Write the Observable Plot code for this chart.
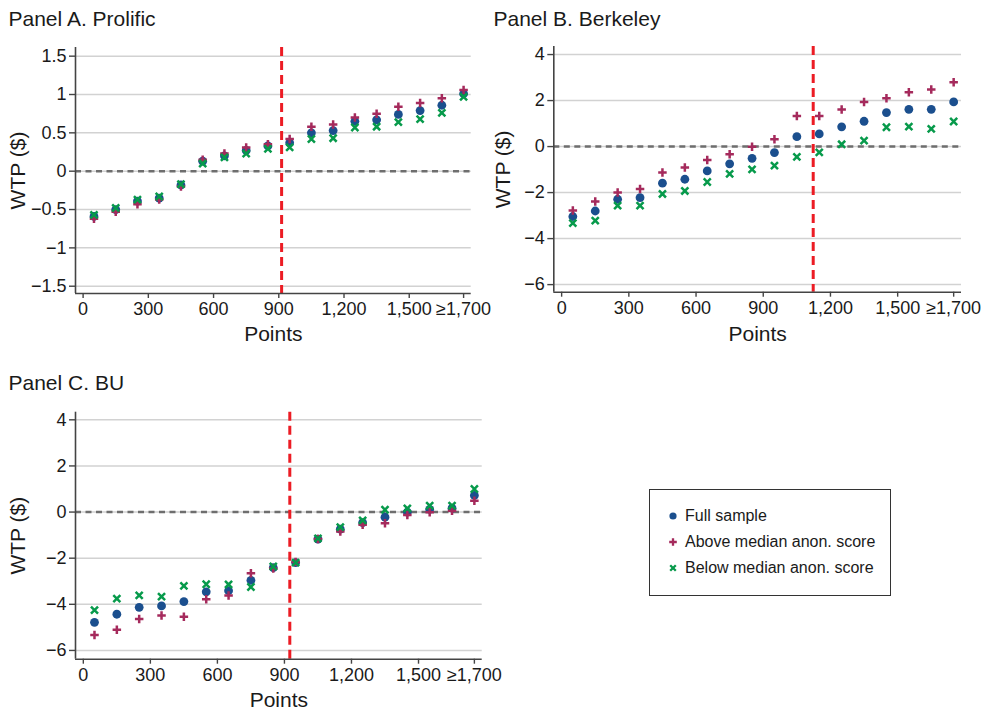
<!DOCTYPE html>
<html>
<head>
<meta charset="utf-8">
<script src="https://cdn.jsdelivr.net/npm/d3@7"></script>
<script src="https://cdn.jsdelivr.net/npm/@observablehq/plot@0.6"></script>
<style>
  body { margin: 0; background: #fff; }
  #root { position: relative; width: 983px; height: 710px; background: #fff; overflow: hidden;
          font-family: "Liberation Sans", Arial, Helvetica, sans-serif; color: #1a1a1a; }
  .panel { position: absolute; }
  #legend { position: absolute; left: 649px; top: 489px; width: 242px; height: 107px;
            border: 1.5px solid #333; box-sizing: border-box; background: #fff; }
  .lrow { position: absolute; left: 0; height: 20px; display: flex; align-items: center; font-size: 16px; }
  .lrow svg { margin-left: 17px; margin-right: 6px; }
</style>
</head>
<body>
<div id="root"></div>
<script>
// ---- data ----
const points = [50, 150, 250, 350, 450, 550, 650, 750, 850, 950, 1050, 1150, 1250, 1350, 1450, 1550, 1650, 1750];
const xTicks = [0, 300, 600, 900, 1200, 1500, 1750];
const xTickLabels = ["0", "300", "600", "900", "1,200", "1,500", "\u22651,700"];
const seriesNames = ["Full sample", "Above median anon. score", "Below median anon. score"];

const prolificFull  = [-0.59, -0.50, -0.39, -0.35, -0.18, 0.13, 0.20, 0.27, 0.33, 0.37, 0.50, 0.53, 0.65, 0.67, 0.74, 0.79, 0.86, 1.01];
const prolificAbove = [-0.62, -0.53, -0.43, -0.37, -0.20, 0.15, 0.23, 0.31, 0.35, 0.42, 0.58, 0.61, 0.70, 0.75, 0.84, 0.89, 0.95, 1.06];
const prolificBelow = [-0.57, -0.48, -0.37, -0.33, -0.17, 0.10, 0.18, 0.23, 0.29, 0.31, 0.42, 0.43, 0.57, 0.58, 0.64, 0.68, 0.76, 0.97];

const berkeleyFull  = [-3.04, -2.80, -2.29, -2.22, -1.59, -1.42, -1.06, -0.75, -0.51, -0.26, 0.43, 0.55, 0.86, 1.10, 1.48, 1.62, 1.62, 1.94];
const berkeleyAbove = [-2.78, -2.39, -2.00, -1.84, -1.13, -0.91, -0.58, -0.33, -0.01, 0.32, 1.33, 1.33, 1.61, 1.94, 2.10, 2.36, 2.48, 2.80];
const berkeleyBelow = [-3.33, -3.22, -2.57, -2.57, -2.06, -1.93, -1.54, -1.19, -0.99, -0.83, -0.45, -0.25, 0.10, 0.26, 0.84, 0.87, 0.77, 1.09];

const buFull  = [-4.78, -4.43, -4.13, -4.07, -3.88, -3.46, -3.41, -2.96, -2.41, -2.19, -1.17, -0.74, -0.46, -0.22, 0.00, 0.12, 0.17, 0.72];
const buAbove = [-5.33, -5.10, -4.64, -4.48, -4.54, -3.78, -3.62, -2.65, -2.45, -2.16, -1.17, -0.84, -0.55, -0.48, -0.13, -0.01, 0.06, 0.49];
const buBelow = [-4.25, -3.75, -3.61, -3.67, -3.20, -3.13, -3.14, -3.25, -2.36, -2.19, -1.14, -0.65, -0.36, 0.10, 0.16, 0.28, 0.28, 1.00];

const prolificCutoff = 913;
const berkeleyCutoff = 1123;
const buCutoff = 924;

const prolificYTicks = [-1.5, -1, -0.5, 0, 0.5, 1, 1.5];
const wideYTicks = [-6, -4, -2, 0, 2, 4];

// ---- styling ----
const FONT = '"Liberation Sans", Arial, Helvetica, sans-serif';
const BLUE = "#1b4f8e", MAROON = "#a52a5c", GREEN = "#079a4b";
const AXIS = "#444";
const xDomain = [-35, 1785];
const fmtY = d => d < 0 ? "\u2212" + Math.abs(d) : String(d);

function panel(cfg) {
  const rows = points.map((p, i) => ({points: p, full: cfg.full[i], above: cfg.above[i], below: cfg.below[i]}));
  const chart = Plot.plot({
    width: cfg.width, height: cfg.height,
    marginTop: cfg.mt, marginLeft: cfg.ml, marginRight: cfg.mr, marginBottom: cfg.mb,
    style: {fontFamily: FONT, color: "#1a1a1a", background: "transparent", overflow: "visible"},
    x: {domain: xDomain},
    y: {domain: cfg.yDomain},
    marks: [
      Plot.gridY(cfg.yTicks, {stroke: "#d2d2d2", strokeOpacity: 1, strokeWidth: 1.5}),
      Plot.ruleY([0], {stroke: "#6e6e6e", strokeWidth: 2.5, strokeDasharray: "6,4.5"}),
      Plot.ruleX([cfg.cutoff], {stroke: "#ec1c24", strokeWidth: 3, strokeDasharray: "9,5"}),
      Plot.ruleX([xDomain[0]], {stroke: AXIS, strokeWidth: 1.6}),
      Plot.ruleY([cfg.yDomain[0]], {stroke: AXIS, strokeWidth: 1.6}),
      Plot.axisY(cfg.yTicks, {tickSize: 6, tickPadding: 3, tickFormat: fmtY, fontSize: 18, label: null, stroke: AXIS, strokeWidth: 1.4}),
      Plot.axisX(xTicks, {tickSize: 5, tickPadding: 4, tickFormat: d => xTickLabels[xTicks.indexOf(d)], fontSize: 18, label: null, stroke: AXIS, strokeWidth: 1.4}),
      Plot.dot(rows, {x: "points", y: "full", r: 4.4, fill: BLUE, stroke: null}),
      Plot.dot(rows, {x: "points", y: "above", symbol: "plus", r: 2.85, stroke: MAROON, strokeWidth: 2.5}),
      Plot.dot(rows, {x: "points", y: "below", symbol: "times", r: 3.3, stroke: GREEN, strokeWidth: 2.5}),
      Plot.text([cfg.title], {frameAnchor: "top-left", dx: cfg.tdx, dy: cfg.tdy, textAnchor: "start", lineAnchor: "middle", fontSize: 21, fill: "#1a1a1a"}),
      Plot.text(["Points"], {frameAnchor: "bottom", dy: cfg.pdy, textAnchor: "middle", lineAnchor: "middle", fontSize: 21, fill: "#1a1a1a"}),
      Plot.text(["WTP ($)"], {frameAnchor: "left", dx: cfg.wdx, rotate: -90, textAnchor: "middle", lineAnchor: "middle", fontSize: 21, fill: "#1a1a1a"})
    ]
  });
  const wrap = document.createElement("div");
  wrap.className = "panel";
  wrap.style.left = cfg.left + "px";
  wrap.style.top = cfg.top + "px";
  wrap.appendChild(chart);
  document.getElementById("root").appendChild(wrap);
}

panel({title: "Panel A. Prolific", full: prolificFull, above: prolificAbove, below: prolificBelow,
  cutoff: prolificCutoff, yTicks: prolificYTicks, yDomain: [-1.595, 1.613],
  left: 0, top: 0, width: 483, height: 355, mt: 47, ml: 75, mr: 12.3, mb: 62,
  tdx: -67, tdy: -28, pdy: 41, wdx: -57});

panel({title: "Panel B. Berkeley", full: berkeleyFull, above: berkeleyAbove, below: berkeleyBelow,
  cutoff: berkeleyCutoff, yTicks: wideYTicks, yDomain: [-6.33, 4.35],
  left: 490, top: 0, width: 493, height: 355, mt: 46, ml: 63.3, mr: 22, mb: 63.3,
  tdx: -60.3, tdy: -27, pdy: 42.3, wdx: -50.6});

panel({title: "Panel C. BU", full: buFull, above: buAbove, below: buBelow,
  cutoff: buCutoff, yTicks: wideYTicks, yDomain: [-6.38, 4.33],
  left: 0, top: 360, width: 500, height: 350, mt: 51.7, ml: 75, mr: 18.3, mb: 51.3,
  tdx: -67, tdy: -28.7, pdy: 41.3, wdx: -57});

// ---- legend ----
const legend = document.createElement("div");
legend.id = "legend";
const symbolsSvg = [
  `<circle cx="6" cy="6" r="3.6" fill="${BLUE}"/>`,
  `<path d="M6,2.2V9.8M2.2,6H9.8" stroke="${MAROON}" stroke-width="2.3" fill="none"/>`,
  `<path d="M3.2,3.2L8.8,8.8M8.8,3.2L3.2,8.8" stroke="${GREEN}" stroke-width="2.3" fill="none"/>`
];
const rowTops = [16, 42, 68];
seriesNames.forEach((name, i) => {
  const row = document.createElement("div");
  row.className = "lrow";
  row.style.top = rowTops[i] + "px";
  row.innerHTML = `<svg width="12" height="12">${symbolsSvg[i]}</svg><span>${name}</span>`;
  legend.appendChild(row);
});
document.getElementById("root").appendChild(legend);
</script>
</body>
</html>
